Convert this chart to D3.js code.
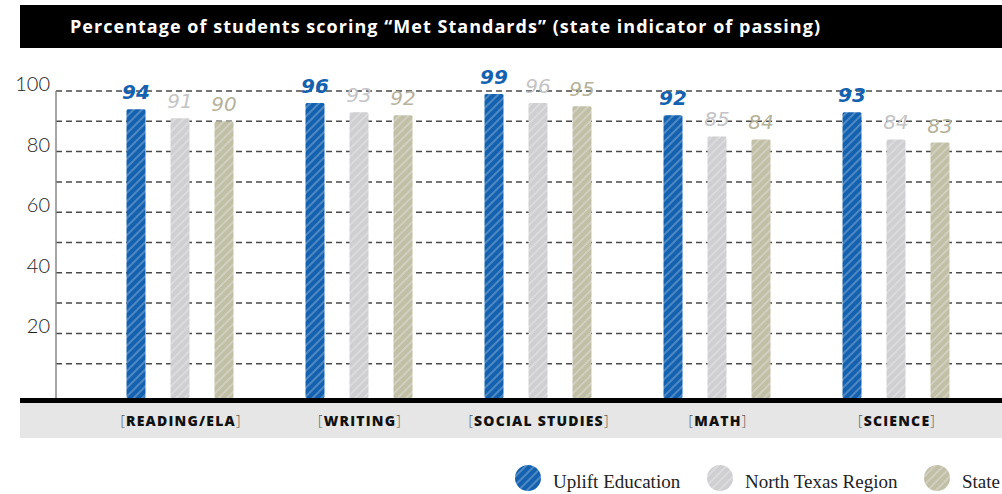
<!DOCTYPE html>
<html>
<head>
    <meta charset='utf-8'>
    <title>Met Standards</title>
    <script src='https://d3js.org/d3.v7.min.js'></script>
    <style>
        body { margin: 0; background: #fff; }
    </style>
</head>
<body>
<div id='chart'></div>
<script type='text/javascript'>
    // data
    const categories = ['READING/ELA', 'WRITING', 'SOCIAL STUDIES', 'MATH', 'SCIENCE'];
    const seriesNames = ['Uplift Education', 'North Texas Region', 'State'];
    const uplift = [94, 96, 99, 92, 93];
    const northTexas = [91, 93, 96, 85, 84];
    const stateVals = [90, 92, 95, 84, 83];
    const yTicks = [20, 40, 60, 80, 100];
    const gridTicks = [10, 20, 30, 40, 50, 60, 70, 80, 90, 100];
    const colors = ['#1461b0', '#cfcfd1', '#c2bfa7'];
    const labelColors = ['#1461b0', '#c4c4c6', '#b5b29a'];

    const W = 1002, H = 494;
    const allSeries = [uplift, northTexas, stateVals];

    let svg = d3.select('#chart')
        .append('svg')
        .attr('width', W)
        .attr('height', H);

    // hatch patterns for the sketchy look
    let defs = svg.append('defs');
    colors.forEach((c, i) => {
        let p = defs.append('pattern')
            .attr('id', 'hatch' + i)
            .attr('patternUnits', 'userSpaceOnUse')
            .attr('width', 6)
            .attr('height', 6)
            .attr('patternTransform', 'rotate(-45)');
        p.append('rect').attr('width', 6).attr('height', 6).attr('fill', c);
        p.append('line')
            .attr('x1', 0).attr('y1', 2).attr('x2', 6).attr('y2', 2)
            .attr('stroke', '#fff')
            .attr('stroke-opacity', 0.5)
            .attr('stroke-width', 1);
    });

    // title bar
    svg.append('rect')
        .attr('x', 20).attr('y', 5)
        .attr('width', W - 20).attr('height', 43)
        .attr('fill', '#000');
    svg.append('text')
        .attr('x', 70).attr('y', 33)
        .attr('fill', '#fff')
        .attr('font-family', 'Open Sans')
        .attr('font-weight', 700)
        .attr('font-size', '18px')
        .attr('textLength', 750)
        .attr('lengthAdjust', 'spacing')
        .text('Percentage of students scoring \u201cMet Standards\u201d (state indicator of passing)');

    // scales
    let yScale = d3.scaleLinear().domain([0, 100]).range([394, 91]);
    let x0 = d3.scaleBand().domain(categories).range([91.5, 986.5]);
    let x1 = d3.scalePoint().domain(seriesNames).range([-45, 43]);
    const barW = 19;
    const baseY = 398;

    // gridlines
    svg.append('g')
        .selectAll('line')
        .data(gridTicks)
        .enter()
        .append('line')
        .attr('x1', 56).attr('x2', W)
        .attr('y1', (d) => yScale(d))
        .attr('y2', (d) => yScale(d))
        .attr('stroke', '#4a4a4a')
        .attr('stroke-width', 1.5)
        .attr('stroke-dasharray', '6,4');

    // y axis line
    svg.append('line')
        .attr('x1', 56).attr('x2', 56)
        .attr('y1', yScale(100)).attr('y2', baseY)
        .attr('stroke', '#888')
        .attr('stroke-width', 1.5);

    // y tick labels
    svg.append('g')
        .selectAll('text')
        .data(yTicks)
        .enter()
        .append('text')
        .attr('x', 50)
        .attr('y', (d) => yScale(d))
        .attr('text-anchor', 'end')
        .attr('font-family', 'Lato')
        .attr('font-weight', 300)
        .attr('font-size', '20px')
        .attr('fill', '#222')
        .text((d) => d);

    // bars
    let groups = svg.append('g')
        .selectAll('g')
        .data(categories)
        .enter()
        .append('g')
        .attr('transform', (d) => `translate(${x0(d) + x0.bandwidth() / 2},0)`);

    groups.selectAll('rect')
        .data((d, ci) => seriesNames.map((s, si) => ({s: s, si: si, v: allSeries[si][ci]})))
        .enter()
        .append('rect')
        .attr('x', (d) => x1(d.s) - barW / 2)
        .attr('y', (d) => yScale(d.v))
        .attr('width', barW)
        .attr('height', (d) => baseY - yScale(d.v))
        .attr('rx', 1.5)
        .attr('fill', (d) => `url(#hatch${d.si})`);

    groups.selectAll('text')
        .data((d, ci) => seriesNames.map((s, si) => ({s: s, si: si, v: allSeries[si][ci]})))
        .enter()
        .append('text')
        .attr('x', (d) => x1(d.s))
        .attr('y', (d) => yScale(d.v) - 10)
        .attr('text-anchor', 'middle')
        .attr('font-family', 'DejaVu Sans')
        .attr('font-style', 'italic')
        .attr('font-weight', (d) => d.si === 0 ? 700 : 300)
        .attr('font-size', '20px')
        .attr('fill', (d) => labelColors[d.si])
        .text((d) => d.v);

    // baseline and category band
    svg.append('rect')
        .attr('x', 20).attr('y', 403)
        .attr('width', W - 20).attr('height', 35)
        .attr('fill', '#e6e6e6');
    svg.append('rect')
        .attr('x', 20).attr('y', baseY)
        .attr('width', W - 20).attr('height', 5)
        .attr('fill', '#000');

    let catLabels = svg.append('g')
        .selectAll('text')
        .data(categories)
        .enter()
        .append('text')
        .attr('x', (d) => x0(d) + x0.bandwidth() / 2)
        .attr('y', 426)
        .attr('text-anchor', 'middle')
        .attr('font-family', 'Open Sans')
        .attr('font-size', '14px')
        .attr('letter-spacing', '1.2px')
        .attr('fill', '#111');
    catLabels.append('tspan').attr('font-weight', 300).attr('fill', '#555').text('[');
    catLabels.append('tspan').attr('font-weight', 800).text((d) => d);
    catLabels.append('tspan').attr('font-weight', 300).attr('fill', '#555').text(']');

    // legend
    const legendX = [528, 720, 937];
    let legend = svg.append('g')
        .selectAll('g')
        .data(seriesNames)
        .enter()
        .append('g')
        .attr('transform', (d, i) => `translate(${legendX[i]},478)`);
    legend.append('circle')
        .attr('r', 13)
        .attr('fill', (d, i) => `url(#hatch${i})`);
    legend.append('text')
        .attr('x', 25)
        .attr('y', 10)
        .attr('font-family', 'Liberation Serif')
        .attr('font-size', '19px')
        .attr('fill', '#222')
        .text((d) => d);
</script>
</body>
</html>
